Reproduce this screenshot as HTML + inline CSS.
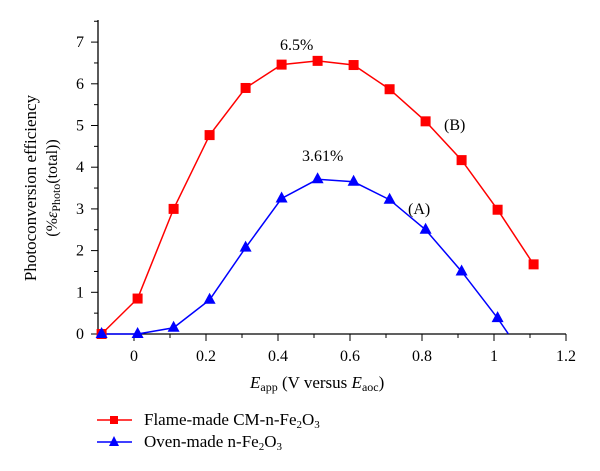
<!DOCTYPE html>
<html><head><meta charset="utf-8"><style>
body{margin:0;background:#fff}
svg{display:block;font-family:"Liberation Serif",serif}
</style></head><body>
<svg id="chart" width="600" height="471" viewBox="0 0 600 471">
<g id="axes"></g><g id="series"></g>
<text x="280" y="50" font-size="16">6.5%</text>
<text x="302" y="161" font-size="16">3.61%</text>
<text x="444" y="130" font-size="16">(B)</text>
<text x="408" y="214" font-size="16">(A)</text>
<text x="250" y="388" font-size="17"><tspan font-style="italic">E</tspan><tspan font-size="12" dy="3">app</tspan><tspan dy="-3"> (V versus </tspan><tspan font-style="italic">E</tspan><tspan font-size="12" dy="3">aoc</tspan><tspan dy="-3">)</tspan></text>
<g transform="translate(36,188) rotate(-90)">
<text x="0" y="0" font-size="17" text-anchor="middle">Photoconversion efficiency</text>
<text x="0" y="21" font-size="16" text-anchor="middle">(%<tspan font-style="italic">ε</tspan><tspan font-size="12" dy="3">Photo</tspan><tspan dy="-3">(total))</tspan></text>
</g>
<g>
<g>
<line x1="97" y1="420" x2="132" y2="420" stroke="#ff0000" stroke-width="1.5"/>
<rect x="110" y="416" width="8" height="8" fill="#ff0000"/>
<text x="144" y="425" font-size="17">Flame-made CM-n-Fe<tspan font-size="11" dy="3">2</tspan><tspan dy="-3">O</tspan><tspan font-size="11" dy="3">3</tspan></text>
</g>
<g>
<line x1="97" y1="442" x2="132" y2="442" stroke="#0000ff" stroke-width="1.5"/>
<polygon points="114,436 119,446 109,446" fill="#0000ff"/>
<text x="144" y="447" font-size="17">Oven-made n-Fe<tspan font-size="11" dy="3">2</tspan><tspan dy="-3">O</tspan><tspan font-size="11" dy="3">3</tspan></text>
</g>
</g>
</svg>
<script>
const xValues=[-0.09,0.01,0.11,0.21,0.31,0.41,0.51,0.61,0.71,0.81,0.91,1.01,1.11];
const flameValues=[0,0.85,3.0,4.77,5.9,6.46,6.55,6.45,5.87,5.1,4.17,2.98,1.67];
const ovenX=[-0.09,0.01,0.11,0.21,0.31,0.41,0.51,0.61,0.71,0.81,0.91,1.01];
const ovenValues=[0,0,0.15,0.82,2.07,3.25,3.71,3.65,3.22,2.5,1.5,0.38];
const ovenEndX=1.04;
const xTicks=[0,0.2,0.4,0.6,0.8,1,1.2];
const xTickLabels=["0","0.2","0.4","0.6","0.8","1","1.2"];
const yTicks=[0,1,2,3,4,5,6,7];
const NS="http://www.w3.org/2000/svg";
const sx=v=>134+(v)*360;
const sy=v=>334-v*41.7;
function mk(tag,attrs,parent){const e=document.createElementNS(NS,tag);for(const k in attrs)e.setAttribute(k,attrs[k]);parent.appendChild(e);return e;}
const axes=document.getElementById('axes'),ser=document.getElementById('series');
let a=mk('line',{x1:98,y1:20,x2:98,y2:334,stroke:'#000','stroke-width':1.3},axes);


a=mk('line',{x1:98,y1:334,x2:sx(1.2),y2:334,stroke:'#000','stroke-width':1.3},axes);


for(let i=-1;i<=12;i++){const x=sx(i/10);mk('line',{x1:x,y1:334,x2:x,y2:i%2===0?341:338,stroke:'#000'},axes);}
xTicks.forEach((t,i)=>{const e=mk('text',{x:sx(t),y:361,'font-size':16,'text-anchor':'middle'},axes);e.textContent=xTickLabels[i];

});
for(let v=0;v<=7.5;v+=0.5){const y=sy(v);mk('line',{x1:98,y1:y,x2:v%1===0?91:94,y2:y,stroke:'#000'},axes);}
yTicks.forEach(t=>{const e=mk('text',{x:84,y:sy(t)+5,'font-size':16,'text-anchor':'end'},axes);e.textContent=String(t);

});
let p=mk('polyline',{points:xValues.map((x,i)=>sx(x)+','+sy(flameValues[i])).join(' '),fill:'none',stroke:'#ff0000','stroke-width':1.5},ser);


const op=ovenX.map((x,i)=>sx(x)+','+sy(ovenValues[i]));op.push(sx(ovenEndX)+','+sy(0));
p=mk('polyline',{points:op.join(' '),fill:'none',stroke:'#0000ff','stroke-width':1.5},ser);


xValues.forEach((x,i)=>{const r=mk('rect',{x:sx(x)-5,y:sy(flameValues[i])-5,width:10,height:10,fill:'#ff0000'},ser);

});
ovenX.forEach((x,i)=>{const cx=sx(x),cy=sy(ovenValues[i]);const t=mk('polygon',{points:`${cx},${cy-7} ${cx+6},${cy+4} ${cx-6},${cy+4}`,fill:'#0000ff'},ser);

});
</script>
</body></html>
